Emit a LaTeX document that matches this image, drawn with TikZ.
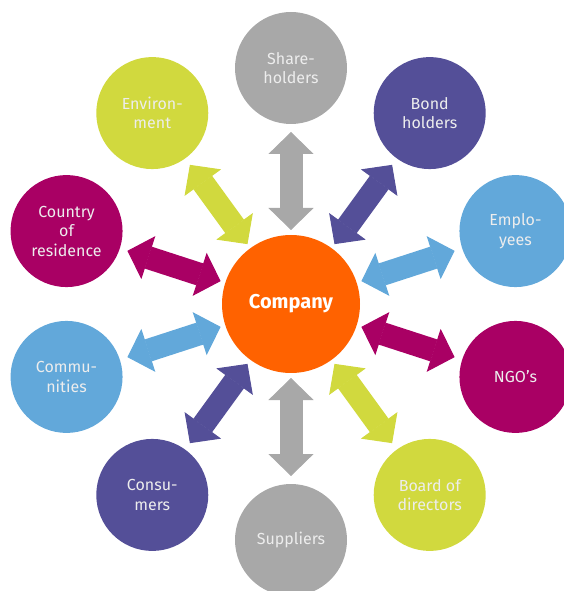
\documentclass[tikz,border=0pt]{standalone}
\usepackage{fontspec}
\setmainfont{Fira Sans}
\usetikzlibrary{arrows.meta}
\definecolor{orng}{HTML}{FF6200}
\definecolor{gry}{HTML}{A8A8A8}
\definecolor{ind}{HTML}{544F98}
\definecolor{sky}{HTML}{62A8DA}
\definecolor{mag}{HTML}{A90064}
\definecolor{lime}{HTML}{D1D93E}
\tikzstyle{hub}=[circle,fill=orng,minimum size=138pt,inner sep=0pt,outer sep=0pt,text=white,font=\bfseries\fontsize{20}{23}\selectfont]
\tikzstyle{party}=[circle,minimum size=112pt,inner sep=0pt,outer sep=0pt,align=center,text=white!93!black,font=\fontsize{16}{19.5}\selectfont]
\tikzstyle{link}=[line width=23pt,{Triangle[width=45pt,length=22pt,line width=1pt]}-{Triangle[width=45pt,length=22pt,line width=1pt]},shorten <=5pt,shorten >=8pt]

\begin{document}
\begin{tikzpicture}[x=1pt,y=1pt]
    \useasboundingbox (-291,-287) rectangle (272,304);
    \node[hub] (co) at (0,0) {Company};
    \node[party,fill=gry]  (sh) at (90:236)   {Share-\\holders};
    \node[party,fill=ind]  (bh) at (54:236)   {Bond\\holders};
    \node[party,fill=sky]  (em) at (18:236)   {Emplo-\\yees};
    \node[party,fill=mag]  (ng) at (-18:236)  {NGO's};
    \node[party,fill=lime] (bd) at (-54:236)  {Board of\\directors};
    \node[party,fill=gry]  (su) at (-90:236)  {Suppliers};
    \node[party,fill=ind]  (cs) at (-126:236) {Consu-\\mers};
    \node[party,fill=sky]  (cm) at (-162:236) {Commu-\\nities};
    \node[party,fill=mag]  (cr) at (162:236)  {Country\\of\\residence};
    \node[party,fill=lime] (en) at (126:236)  {Environ-\\ment};
    \draw[link,gry]  (co) -- (sh);
    \draw[link,ind]  (co) -- (bh);
    \draw[link,sky]  (co) -- (em);
    \draw[link,mag]  (co) -- (ng);
    \draw[link,lime] (co) -- (bd);
    \draw[link,gry]  (co) -- (su);
    \draw[link,ind]  (co) -- (cs);
    \draw[link,sky]  (co) -- (cm);
    \draw[link,mag]  (co) -- (cr);
    \draw[link,lime] (co) -- (en);
\end{tikzpicture}
\end{document}
